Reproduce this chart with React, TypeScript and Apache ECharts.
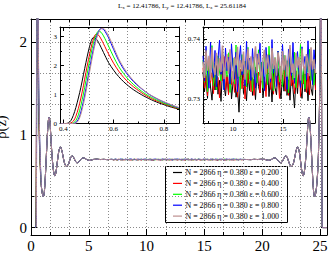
import React, { useEffect, useRef } from 'react';
import * as echarts from 'echarts';

// ---------- data ----------
const boxLengths = [12.41786, 12.41786, 25.61184]; // Lx, Ly, Lz
const nParticles = 2866;
const packingFraction = 0.38;
const epsilons = [0.2, 0.4, 0.6, 0.8, 1.0];
const seriesColors = ['#000000', '#ff0000', '#00ff00', '#0000ff', '#bc8f8f'];

const mainXLabels = [0, 5, 10, 15, 20, 25];
const mainYLabels = [0, 1, 2];
const inset1XLabels = [0.4, 0.6, 0.8];
const inset1XMinor = [0.5, 0.7];
const inset2XLabels = [10, 15];
const inset2XMinor = [7.5, 12.5, 17.5];
const inset2YLabels = [0.73, 0.74];
const inset2YMinor = [0.735];

// contact peak region (inset 1)
const zContact = [0.39, 0.40, 0.41, 0.42, 0.43, 0.44, 0.45, 0.46, 0.47, 0.48,
  0.49, 0.50, 0.51, 0.52, 0.53, 0.54, 0.55, 0.56, 0.57, 0.58,
  0.60, 0.62, 0.64, 0.66, 0.68, 0.70, 0.72, 0.74, 0.76, 0.78, 0.80, 0.82, 0.84, 0.86];
const contactEps02 = [0, 0, 0, 0.02, 0.1, 0.28, 0.55, 0.88, 1.25, 1.68,
  2.1, 2.5, 2.82, 2.97, 2.93, 2.8, 2.63, 2.45, 2.27, 2.1,
  1.84, 1.62, 1.44, 1.29, 1.16, 1.05, 0.95, 0.86, 0.78, 0.71, 0.65, 0.59, 0.54, 0.49];
const contactEps04 = [0, 0, 0, 0, 0.02, 0.08, 0.25, 0.52, 0.88, 1.3,
  1.76, 2.2, 2.6, 2.92, 3.08, 3.05, 2.92, 2.75, 2.57, 2.4,
  2.08, 1.81, 1.59, 1.41, 1.26, 1.13, 1.01, 0.91, 0.82, 0.75, 0.68, 0.62, 0.56, 0.51];
const contactEps06 = [0, 0, 0, 0, 0, 0.02, 0.1, 0.3, 0.62, 1.02,
  1.48, 1.95, 2.4, 2.78, 3.05, 3.19, 3.15, 3.02, 2.85, 2.67,
  2.3, 1.97, 1.72, 1.51, 1.34, 1.19, 1.06, 0.95, 0.86, 0.78, 0.7, 0.64, 0.58, 0.52];
const contactEps08 = [0, 0, 0, 0, 0, 0, 0.03, 0.15, 0.4, 0.76,
  1.2, 1.67, 2.15, 2.58, 2.93, 3.17, 3.28, 3.25, 3.12, 2.96,
  2.56, 2.18, 1.88, 1.64, 1.44, 1.28, 1.14, 1.01, 0.91, 0.82, 0.74, 0.67, 0.6, 0.54];
const contactEps10 = [0, 0, 0, 0, 0, 0, 0.01, 0.1, 0.32, 0.66,
  1.08, 1.55, 2.03, 2.48, 2.86, 3.12, 3.27, 3.28, 3.18, 3.03,
  2.64, 2.24, 1.93, 1.68, 1.47, 1.3, 1.15, 1.02, 0.92, 0.83, 0.75, 0.68, 0.61, 0.55];
const contactRho = [contactEps02, contactEps04, contactEps06, contactEps08, contactEps10];

// left wall oscillations
const zWallL = [0.90, 0.95, 1.00, 1.05, 1.10, 1.15, 1.20, 1.25, 1.30, 1.35,
  1.40, 1.45, 1.50, 1.55, 1.60, 1.65, 1.70, 1.75, 1.80, 1.85,
  1.90, 1.95, 2.00, 2.05, 2.10, 2.15, 2.20, 2.30, 2.40, 2.50,
  2.55, 2.60, 2.70, 2.80, 2.90, 3.00, 3.08, 3.15, 3.25, 3.35,
  3.45, 3.55, 3.65, 3.75, 3.85, 3.95, 4.05, 4.15, 4.30, 4.45,
  4.60, 4.75, 4.90, 5.10, 5.40, 5.70, 6.00, 6.30, 6.60, 6.85];
const rhoWallL = [0.44, 0.39, 0.355, 0.335, 0.34, 0.38, 0.46, 0.57, 0.70, 0.83,
  0.96, 1.07, 1.15, 1.19, 1.18, 1.12, 1.02, 0.91, 0.81, 0.73,
  0.66, 0.61, 0.575, 0.56, 0.565, 0.59, 0.63, 0.73, 0.82, 0.865,
  0.87, 0.86, 0.815, 0.75, 0.695, 0.665, 0.66, 0.665, 0.69, 0.725,
  0.76, 0.775, 0.765, 0.74, 0.715, 0.70, 0.70, 0.71, 0.735, 0.75,
  0.75, 0.74, 0.728, 0.725, 0.735, 0.738, 0.734, 0.736, 0.733, 0.735];

// bulk region (inset 2)
const zBulk = [7.00, 7.15, 7.30, 7.45, 7.60, 7.75, 7.90, 8.05, 8.20, 8.35,
  8.50, 8.65, 8.80, 8.95, 9.10, 9.25, 9.40, 9.55, 9.70, 9.85,
  10.00, 10.15, 10.30, 10.45, 10.60, 10.75, 10.90, 11.05, 11.20, 11.35,
  11.50, 11.65, 11.80, 11.95, 12.10, 12.25, 12.40, 12.55, 12.70, 12.85,
  13.00, 13.15, 13.30, 13.45, 13.60, 13.75, 13.90, 14.05, 14.20, 14.35,
  14.50, 14.65, 14.80, 14.95, 15.10, 15.25, 15.40, 15.55, 15.70, 15.85,
  16.00, 16.15, 16.30, 16.45, 16.60, 16.75, 16.90, 17.05, 17.20, 17.35,
  17.50, 17.65, 17.80, 17.95, 18.10, 18.25];
const bulkEps02 = [0.7345, 0.7312, 0.7338, 0.7301, 0.7352, 0.7320, 0.7298, 0.7341, 0.7315, 0.7356,
  0.7308, 0.7331, 0.7296, 0.7347, 0.7322, 0.7305, 0.7339, 0.7311, 0.7362, 0.7300,
  0.7327, 0.7344, 0.7303, 0.7318, 0.7278, 0.7336, 0.7350, 0.7309, 0.7325, 0.7297,
  0.7342, 0.7314, 0.7358, 0.7306, 0.7333, 0.7299, 0.7346, 0.7321, 0.7310, 0.7349,
  0.7302, 0.7330, 0.7317, 0.7355, 0.7304, 0.7337, 0.7295, 0.7343, 0.7319, 0.7307,
  0.7351, 0.7323, 0.7300, 0.7340, 0.7313, 0.7360, 0.7306, 0.7332, 0.7298, 0.7345,
  0.7316, 0.7285, 0.7338, 0.7309, 0.7353, 0.7320, 0.7301, 0.7347, 0.7312, 0.7335,
  0.7297, 0.7344, 0.7318, 0.7306, 0.7350, 0.7326];
const bulkEps04 = [0.7352, 0.7318, 0.7341, 0.7305, 0.7365, 0.7327, 0.7344, 0.7309, 0.7358, 0.7321,
  0.7336, 0.7302, 0.7349, 0.7330, 0.7371, 0.7315, 0.7340, 0.7307, 0.7355, 0.7324,
  0.7346, 0.7311, 0.7362, 0.7303, 0.7334, 0.7350, 0.7317, 0.7343, 0.7300, 0.7357,
  0.7326, 0.7368, 0.7312, 0.7339, 0.7306, 0.7353, 0.7329, 0.7345, 0.7310, 0.7361,
  0.7320, 0.7337, 0.7304, 0.7348, 0.7375, 0.7316, 0.7342, 0.7308, 0.7356, 0.7323,
  0.7338, 0.7301, 0.7351, 0.7328, 0.7366, 0.7313, 0.7344, 0.7306, 0.7359, 0.7322,
  0.7335, 0.7309, 0.7347, 0.7319, 0.7363, 0.7304, 0.7340, 0.7325, 0.7354, 0.7311,
  0.7343, 0.7307, 0.7358, 0.7330, 0.7348, 0.7315];
const bulkEps06 = [0.7365, 0.7328, 0.7381, 0.7312, 0.7356, 0.7340, 0.7389, 0.7322, 0.7360, 0.7315,
  0.7372, 0.7345, 0.7330, 0.7384, 0.7318, 0.7358, 0.7337, 0.7377, 0.7311, 0.7352,
  0.7368, 0.7325, 0.7390, 0.7334, 0.7349, 0.7316, 0.7374, 0.7342, 0.7363, 0.7320,
  0.7386, 0.7333, 0.7357, 0.7313, 0.7370, 0.7346, 0.7327, 0.7382, 0.7339, 0.7361,
  0.7318, 0.7376, 0.7350, 0.7324, 0.7388, 0.7336, 0.7359, 0.7314, 0.7369, 0.7343,
  0.7380, 0.7329, 0.7355, 0.7321, 0.7373, 0.7338, 0.7364, 0.7310, 0.7385, 0.7347,
  0.7332, 0.7378, 0.7319, 0.7360, 0.7341, 0.7391, 0.7326, 0.7353, 0.7317, 0.7371,
  0.7344, 0.7383, 0.7331, 0.7362, 0.7323, 0.7358];
const bulkEps08 = [0.7372, 0.7330, 0.7388, 0.7345, 0.7318, 0.7395, 0.7352, 0.7336, 0.7381, 0.7320,
  0.7366, 0.7398, 0.7341, 0.7359, 0.7315, 0.7385, 0.7347, 0.7370, 0.7325, 0.7392,
  0.7354, 0.7333, 0.7378, 0.7312, 0.7363, 0.7389, 0.7340, 0.7357, 0.7322, 0.7396,
  0.7349, 0.7368, 0.7331, 0.7384, 0.7345, 0.7318, 0.7375, 0.7358, 0.7393, 0.7337,
  0.7362, 0.7314, 0.7386, 0.7351, 0.7373, 0.7328, 0.7399, 0.7343, 0.7365, 0.7321,
  0.7380, 0.7355, 0.7335, 0.7391, 0.7348, 0.7369, 0.7316, 0.7383, 0.7357, 0.7339,
  0.7394, 0.7326, 0.7361, 0.7379, 0.7344, 0.7319, 0.7387, 0.7353, 0.7371, 0.7332,
  0.7397, 0.7346, 0.7364, 0.7324, 0.7382, 0.7350];
const bulkEps10 = [0.7362, 0.7335, 0.7381, 0.7347, 0.7372, 0.7331, 0.7386, 0.7354, 0.7340, 0.7377,
  0.7338, 0.7368, 0.7345, 0.7389, 0.7333, 0.7360, 0.7375, 0.7342, 0.7383, 0.7351,
  0.7329, 0.7370, 0.7356, 0.7387, 0.7337, 0.7365, 0.7346, 0.7379, 0.7332, 0.7358,
  0.7384, 0.7349, 0.7371, 0.7336, 0.7363, 0.7388, 0.7343, 0.7376, 0.7353, 0.7330,
  0.7367, 0.7382, 0.7341, 0.7374, 0.7357, 0.7334, 0.7385, 0.7350, 0.7369, 0.7339,
  0.7378, 0.7361, 0.7332, 0.7380, 0.7348, 0.7373, 0.7337, 0.7364, 0.7390, 0.7344,
  0.7359, 0.7335, 0.7377, 0.7352, 0.7370, 0.7331, 0.7384, 0.7355, 0.7342, 0.7375,
  0.7360, 0.7338, 0.7386, 0.7349, 0.7366, 0.7343];
const bulkRho = [bulkEps02, bulkEps04, bulkEps06, bulkEps08, bulkEps10];

// right wall oscillations + contact peak
const zWallR = [18.40, 18.76, 19.01, 19.31, 19.61, 19.91, 20.21, 20.51, 20.71, 20.86,
  21.01, 21.16, 21.31, 21.46, 21.56, 21.66, 21.76, 21.86, 21.96, 22.06,
  22.16, 22.26, 22.36, 22.46, 22.53, 22.61, 22.71, 22.81, 22.91, 23.01,
  23.06, 23.11, 23.21, 23.31, 23.41, 23.46, 23.51, 23.56, 23.61, 23.66,
  23.71, 23.76, 23.81, 23.86, 23.91, 23.96, 24.01, 24.06, 24.11, 24.16,
  24.21, 24.26, 24.31, 24.36, 24.41, 24.46, 24.51, 24.56, 24.61, 24.66,
  24.71, 24.75, 24.79, 24.83, 24.87, 24.91, 24.95, 24.99, 25.01, 25.03,
  25.05, 25.07, 25.09, 25.11, 25.13, 25.15, 25.17, 25.19, 25.22, 25.61];
const rhoWallR = [0.735, 0.734, 0.733, 0.736, 0.734, 0.737, 0.736, 0.726, 0.728, 0.74,
  0.75, 0.75, 0.735, 0.71, 0.70, 0.70, 0.715, 0.74, 0.765, 0.775,
  0.76, 0.725, 0.69, 0.665, 0.66, 0.665, 0.695, 0.75, 0.815, 0.86,
  0.87, 0.865, 0.82, 0.73, 0.63, 0.59, 0.565, 0.56, 0.575, 0.61,
  0.66, 0.73, 0.81, 0.91, 1.02, 1.12, 1.18, 1.19, 1.15, 1.07,
  0.96, 0.83, 0.70, 0.57, 0.46, 0.38, 0.34, 0.335, 0.355, 0.39,
  0.44, 0.50, 0.57, 0.66, 0.79, 0.99, 1.22, 1.55, 1.78, 2.1,
  2.45, 2.78, 2.95, 2.7, 2.0, 1.1, 0.45, 0.08, 0, 0];

// ---------- helpers ----------
const SERIF = '"Liberation Serif", "Times New Roman", serif';
const BLACK = '#000000';
const gridStyle = { color: '#8a8a8a', width: 1, type: [1, 2] as any };

const pairs = (xs: number[], ys: number[]) =>
  xs.map((x, i) => [x, ys[i]]).filter((p) => p[1] !== undefined);

const seriesNames = epsilons.map(
  (e) => `N = ${nParticles} η = ${packingFraction.toFixed(3)} ε = ${e.toFixed(3)}`
);

const near = (v: number, list: number[]) => list.some((t) => Math.abs(t - v) < 1e-9);

function customAxis(
  kind: 'x' | 'y',
  gridIndex: number,
  position: string,
  min: number,
  max: number,
  ticks: number[],
  tickLen: number,
  showLine: boolean,
  labels?: number[],
  fmt?: (v: number) => string
): any {
  return {
    gridIndex,
    type: 'value',
    position,
    min,
    max,
    axisLine: { show: showLine, onZero: false, lineStyle: { color: BLACK, width: 1 } },
    axisTick: {
      show: true,
      inside: true,
      length: tickLen,
      customValues: ticks,
      lineStyle: { color: BLACK, width: 1 },
    },
    axisLabel: labels
      ? {
          show: true,
          customValues: labels,
          formatter: fmt,
          fontSize: 7,
          fontFamily: SERIF,
          color: BLACK,
          margin: kind === 'x' ? 2 : 3,
        }
      : { show: false },
    splitLine: { show: false },
    minorTick: { show: false },
  };
}

// legend box geometry (drawn with the graphic component)
const LEG_X = 165.5;
const LEG_Y = 166.5;
const LEG_W = 122;
const LEG_H = 56;
const LEG_ROW = 10.9;

function buildLegend(): any[] {
  const children: any[] = [
    {
      type: 'rect',
      shape: { x: 0, y: 0, width: LEG_W, height: LEG_H },
      style: { fill: '#ffffff', stroke: BLACK, lineWidth: 1 },
    },
  ];
  seriesNames.forEach((name, i) => {
    const cy = 6 + i * LEG_ROW;
    children.push({
      type: 'line',
      shape: { x1: 7.5, y1: cy, x2: 16.5, y2: cy },
      style: { stroke: seriesColors[i], lineWidth: 1.2 },
    });
    children.push({
      type: 'text',
      x: 20,
      y: cy,
      style: {
        text: name,
        fontSize: 7.9,
        fontFamily: SERIF,
        fill: BLACK,
        align: 'left',
        verticalAlign: 'middle',
      },
    });
  });
  return [{ type: 'group', x: LEG_X, y: LEG_Y, z: 100, children }];
}

function buildOption(): any {
  const Lz = boxLengths[2];

  const mainXBase = {
    gridIndex: 0,
    type: 'value',
    min: 0,
    max: Lz,
    interval: 5,
    axisLine: { show: true, onZero: false, lineStyle: { color: BLACK, width: 1 } },
    axisTick: { show: true, inside: true, length: 6, lineStyle: { color: BLACK } },
    minorTick: { show: true, splitNumber: 3, length: 3, lineStyle: { color: BLACK } },
  };
  const mainYBase = {
    gridIndex: 0,
    type: 'value',
    min: -0.08,
    max: 2.25,
    splitNumber: 2,
    minInterval: 1,
    maxInterval: 1,
    axisLine: { show: true, onZero: false, lineStyle: { color: BLACK, width: 1 } },
    axisTick: { show: true, inside: true, length: 6, lineStyle: { color: BLACK } },
    minorTick: { show: true, splitNumber: 3, length: 3, lineStyle: { color: BLACK } },
  };

  const xAxes: any[] = [
    {
      ...mainXBase,
      position: 'bottom',
      axisLabel: {
        formatter: (v: number) => (near(v, mainXLabels) ? String(v) : ''),
        fontSize: 15,
        fontFamily: SERIF,
        color: BLACK,
        margin: 3,
      },
      splitLine: { show: true, lineStyle: gridStyle },
      minorSplitLine: { show: true, lineStyle: gridStyle },
      name: 'z',
      nameLocation: 'middle',
      nameGap: 6,
      nameTextStyle: { fontSize: 15, lineHeight: 10, fontFamily: SERIF, color: BLACK },
    },
    { ...mainXBase, position: 'top', axisLabel: { show: false }, splitLine: { show: false } },
    customAxis('x', 1, 'bottom', 0.387, 0.86, inset1XLabels, 4, true, inset1XLabels, (v) => v.toFixed(1)),
    customAxis('x', 1, 'bottom', 0.387, 0.86, inset1XMinor, 2, false),
    customAxis('x', 1, 'top', 0.387, 0.86, inset1XLabels, 4, true),
    customAxis('x', 1, 'top', 0.387, 0.86, inset1XMinor, 2, false),
    customAxis('x', 2, 'bottom', 7, 18.2, inset2XLabels, 4, true, inset2XLabels, (v) => String(v)),
    customAxis('x', 2, 'bottom', 7, 18.2, inset2XMinor, 2, false),
    customAxis('x', 2, 'top', 7, 18.2, inset2XLabels, 4, true),
    customAxis('x', 2, 'top', 7, 18.2, inset2XMinor, 2, false),
  ];

  const inset1YBase = {
    gridIndex: 1,
    type: 'value',
    min: 0,
    max: 3.33,
    interval: 1,
    axisLine: { show: true, onZero: false, lineStyle: { color: BLACK, width: 1 } },
    axisTick: { show: true, inside: true, length: 4, lineStyle: { color: BLACK } },
    minorTick: { show: true, splitNumber: 2, length: 2, lineStyle: { color: BLACK } },
    splitLine: { show: false },
  };

  const yAxes: any[] = [
    {
      ...mainYBase,
      position: 'left',
      axisLabel: {
        formatter: (v: number) => (near(v, mainYLabels) ? String(v) : ''),
        fontSize: 15,
        fontFamily: SERIF,
        color: BLACK,
        margin: 4,
      },
      splitLine: { show: true, lineStyle: gridStyle },
      minorSplitLine: { show: true, lineStyle: gridStyle },
      name: 'ρ(z)',
      nameLocation: 'middle',
      nameGap: 12,
      nameTextStyle: { fontSize: 14.5, lineHeight: 13, fontFamily: SERIF, color: BLACK },
    },
    { ...mainYBase, position: 'right', axisLabel: { show: false }, splitLine: { show: false } },
    {
      ...inset1YBase,
      position: 'left',
      axisLabel: {
        formatter: (v: number) => (Number.isInteger(v) ? String(v) : ''),
        fontSize: 7,
        fontFamily: SERIF,
        color: BLACK,
        margin: 3,
      },
    },
    { ...inset1YBase, position: 'right', axisLabel: { show: false } },
    customAxis('y', 2, 'left', 0.726, 0.742, inset2YLabels, 4, true, inset2YLabels, (v) => v.toFixed(2)),
    customAxis('y', 2, 'left', 0.726, 0.742, inset2YMinor, 2, false),
    customAxis('y', 2, 'right', 0.726, 0.742, inset2YLabels, 4, true),
    customAxis('y', 2, 'right', 0.726, 0.742, inset2YMinor, 2, false),
  ];

  const lineSeries = (name: string, color: string, data: number[][], xi: number, yi: number, smooth: any, width = 1) => ({
    type: 'line',
    name,
    xAxisIndex: xi,
    yAxisIndex: yi,
    data,
    showSymbol: false,
    symbol: 'none',
    smooth,
    clip: true,
    itemStyle: { color },
    lineStyle: { color, width },
    emphasis: { disabled: true },
  });

  const series: any[] = [];
  epsilons.forEach((_, i) => {
    const data = [
      ...pairs(zContact, contactRho[i]),
      ...pairs(zWallL, rhoWallL),
      ...pairs(zBulk, bulkRho[i]),
      ...pairs(zWallR, rhoWallR),
    ];
    series.push(lineSeries(seriesNames[i], seriesColors[i], data, 0, 0, 0.2));
  });
  epsilons.forEach((_, i) => {
    series.push(lineSeries(seriesNames[i], seriesColors[i], pairs(zContact, contactRho[i]), 2, 2, 0.3));
  });
  epsilons.forEach((_, i) => {
    series.push(
      lineSeries(seriesNames[i], seriesColors[i], pairs(zBulk, bulkRho[i]), 6, 4, false, i === 4 ? 1.5 : 1)
    );
  });

  return {
    animation: false,
    backgroundColor: '#ffffff',
    textStyle: { fontFamily: SERIF },
    title: {
      text: `L{s|x} = ${boxLengths[0]}, L{s|y} = ${boxLengths[1]}, L{s|z} = ${boxLengths[2]}`,
      left: 118,
      top: 2,
      padding: 0,
      textStyle: {
        fontSize: 7,
        fontFamily: SERIF,
        fontWeight: 'normal',
        color: BLACK,
        rich: {
          s: { fontSize: 5, fontFamily: SERIF, color: BLACK, padding: [3, 0, 0, 0] },
        },
      },
    },
    graphic: buildLegend(),
    grid: [
      { left: 31, top: 19, width: 296, height: 216, containLabel: false, outerBoundsMode: 'none' },
      { left: 60, top: 27, width: 119, height: 96.5, containLabel: false, outerBoundsMode: 'none' },
      { left: 203, top: 27, width: 112, height: 96, containLabel: false, outerBoundsMode: 'none' },
    ],
    xAxis: xAxes,
    yAxis: yAxes,
    series,
  };
}

export default function App() {
  const ref = useRef<HTMLDivElement>(null);
  useEffect(() => {
    if (!ref.current) return;
    const chart = echarts.init(ref.current, null, { renderer: 'svg' });
    chart.setOption(buildOption());
    return () => {
      chart.dispose();
    };
  }, []);
  return (
    <div
      ref={ref}
      style={{ position: 'absolute', left: 0, top: 0, width: 331, height: 254 }}
    />
  );
}
